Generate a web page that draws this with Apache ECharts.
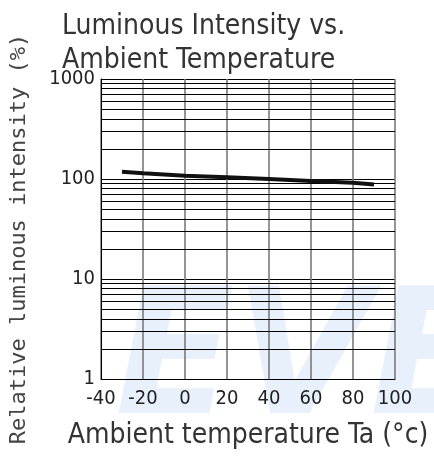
<!DOCTYPE html>
<html>
<head>
<meta charset="utf-8">
<script src="https://cdn.jsdelivr.net/npm/echarts@6/dist/echarts.min.js"></script>
<style>html,body{margin:0;padding:0;background:#fff;}#c{width:434px;height:463px;}</style>
</head>
<body>
<div id="c"></div>
<script>
var titleLines = ['Luminous Intensity vs.', 'Ambient Temperature'];
var xName = 'Ambient temperature Ta (°c)';
var yName = 'Relative luminous intensity (%)';
var temps = [-30, -20, 0, 20, 40, 60, 80, 90];
var intensity = [118, 114, 108, 104, 100, 95.5, 91.5, 88];
var minorGrid = [2,3,4,5,6,7,8,9,20,30,40,50,60,70,80,90,200,300,400,500,600,700,800,900];
var F = '"DejaVu Sans Condensed",sans-serif';

var chart = echarts.init(document.getElementById('c'));
chart.setOption({
  animation: false,
  backgroundColor: '#fff',
  title: {
    text: titleLines.join('\n'),
    left: 57, top: 5,
    textStyle: {fontFamily: F, fontSize: 28, fontWeight: 'normal', color: '#333', lineHeight: 34}
  },
  graphic: [
    {type: 'text', z: -10, left: 115, top: 280, style: {text: 'EVE', fontSize: 175, fontStyle: 'italic', fontWeight: 'bold', fontFamily: 'DejaVu Sans', fill: '#e8f1fb'}},
    {type: 'text', rotation: Math.PI/2, x: 19, y: 239, style: {text: yName, fontFamily: '"DejaVu Sans Mono"', fontSize: 22, fill: '#444', align: 'center', verticalAlign: 'middle'}}
  ],
  grid: {left: 101, right: 39, top: 79, bottom: 84, containLabel: false},
  xAxis: {
    type: 'value', min: -40, max: 100, interval: 20,
    name: xName, nameLocation: 'middle', nameGap: 43,
    nameTextStyle: {fontFamily: F, fontSize: 28, color: '#333'},
    axisLine: {show: true, onZero: false, lineStyle: {color: '#000', width: 1}},
    axisTick: {show: false},
    axisLabel: {fontFamily: F, fontSize: 20, color: '#222', margin: 10},
    splitLine: {show: true, lineStyle: {color: '#7a7a7a', width: 1.6}}
  },
  yAxis: {
    type: 'log', logBase: 10, min: 1, max: 1000,
    axisLine: {show: true, onZero: false, lineStyle: {color: '#000', width: 1}},
    axisTick: {show: false},
    axisLabel: {fontFamily: F, fontSize: 20, color: '#222', margin: 6, formatter: function (v) { return String(v); }},
    splitLine: {show: true, lineStyle: {color: '#000', width: 1}}
  },
  series: [{
    type: 'line',
    data: temps.map(function (t, i) { return [t, intensity[i]]; }),
    showSymbol: false,
    lineStyle: {color: '#111', width: 4},
    z: 5,
    markLine: {
      silent: true, symbol: 'none', label: {show: false},
      lineStyle: {color: '#000', width: 1, type: 'solid'},
      data: minorGrid.map(function (v) { return {yAxis: v}; })
    }
  }]
});
</script>
</body>
</html>
